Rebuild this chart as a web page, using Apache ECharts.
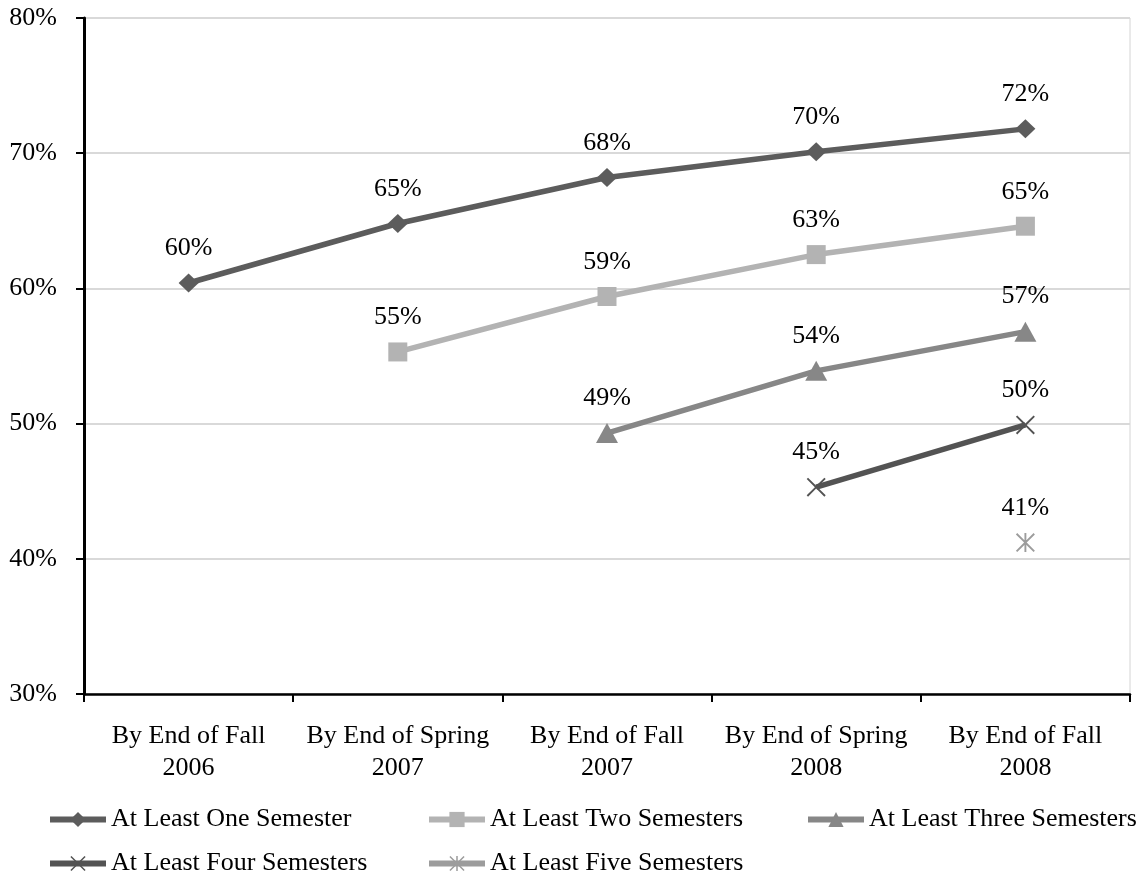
<!DOCTYPE html>
<html>
<head>
<meta charset="utf-8">
<script src="https://cdn.jsdelivr.net/npm/echarts@6/dist/echarts.min.js"></script>
<style>
  html, body { margin: 0; padding: 0; background: #fff; }
  #chart { width: 1143px; height: 877px; }
</style>
</head>
<body>
<div id="chart"></div>
<script>
// Cumulative share of students enrolled for at least N semesters
const categories = [
  'By End of Fall\n2006',
  'By End of Spring\n2007',
  'By End of Fall\n2007',
  'By End of Spring\n2008',
  'By End of Fall\n2008'
];
const seriesNames = [
  'At Least One Semester',
  'At Least Two Semesters',
  'At Least Three Semesters',
  'At Least Four Semesters',
  'At Least Five Semesters'
];
const oneSemester   = [60.4, 64.8, 68.2, 70.1, 71.8];
const twoSemesters  = [null, 55.3, 59.4, 62.5, 64.6];
const threeSemesters = [null, null, 49.3, 53.9, 56.8];
const fourSemesters = [null, null, null, 45.3, 49.9];
const fiveSemesters = [null, null, null, null, 41.2];
const yTicks = { min: 30, max: 80, step: 10 };

const FONT = 'Liberation Serif';
const FONT_SIZE = 26;
const crossPath = 'path://M0,0.7 L0.7,0 L5,4.3 L9.3,0 L10,0.7 L5.7,5 L10,9.3 L9.3,10 L5,5.7 L0.7,10 L0,9.3 L4.3,5 Z';
const starPath = 'path://M0,0.7 L0.7,0 L5,4.3 L9.3,0 L10,0.7 L5.7,5 L10,9.3 L9.3,10 L5,5.7 L0.7,10 L0,9.3 L4.3,5 Z M4.5,0 L5.5,0 L5.5,10 L4.5,10 Z';

const styles = [
  { color: '#5c5c5c', symbol: 'diamond', size: [20, 19] },
  { color: '#b3b3b3', symbol: 'rect', size: 19 },
  { color: '#878787', symbol: 'triangle', size: [22, 20] },
  { color: '#535353', symbol: crossPath, size: 19 },
  { color: '#9c9c9c', symbol: starPath, size: 19 }
];
const values = [oneSemester, twoSemesters, threeSemesters, fourSemesters, fiveSemesters];

const series = values.map((data, i) => ({
  name: seriesNames[i],
  type: 'line',
  data: data,
  symbol: styles[i].symbol,
  symbolSize: styles[i].size,
  showAllSymbol: true,
  connectNulls: false,
  itemStyle: { color: styles[i].color },
  lineStyle: { color: styles[i].color, width: 5.5 },
  label: {
    show: true,
    position: 'top',
    distance: 12,
    color: '#000',
    fontFamily: FONT,
    fontSize: FONT_SIZE,
    formatter: p => Math.round(p.value) + '%'
  },
  emphasis: { disabled: true },
  animation: false
}));

// one legend per entry, laid out in columns over two rows
const legendPos = [[47, 806], [426, 806], [805, 806], [47, 850], [426, 850]];
const legends = seriesNames.map((n, i) => ({
  data: [n],
  left: legendPos[i][0],
  top: legendPos[i][1],
  padding: 0,
  itemWidth: 56,
  itemHeight: 19,
  selectedMode: false,
  lineStyle: { width: 6 },
  textStyle: { fontFamily: FONT, fontSize: FONT_SIZE, color: '#000', lineHeight: 27 }
}));

const chart = echarts.init(document.getElementById('chart'));
chart.setOption({
  backgroundColor: '#fff',
  animation: false,
  legend: legends,
  grid: {
    left: 84, right: 13, top: 18, bottom: 183,
    show: true, borderColor: '#d4d4d4', borderWidth: 1
  },
  xAxis: {
    type: 'category',
    data: categories,
    boundaryGap: true,
    axisLine: { lineStyle: { color: '#000', width: 2.5 } },
    axisTick: { show: true, length: 8, lineStyle: { color: '#000', width: 2 } },
    axisLabel: {
      color: '#000', fontFamily: FONT, fontSize: FONT_SIZE, lineHeight: 32, margin: 26,
      interval: 0
    },
    splitLine: { show: false }
  },
  yAxis: {
    type: 'value',
    min: yTicks.min, max: yTicks.max, interval: yTicks.step,
    axisLine: { show: true, lineStyle: { color: '#000', width: 3 } },
    axisTick: { show: true, length: 8, lineStyle: { color: '#000', width: 2 } },
    axisLabel: {
      color: '#000', fontFamily: FONT, fontSize: FONT_SIZE, margin: 27,
      formatter: '{value}%'
    },
    splitLine: { show: true, lineStyle: { color: '#d9d9d9', width: 2 } }
  },
  series: series
});
</script>
</body>
</html>
